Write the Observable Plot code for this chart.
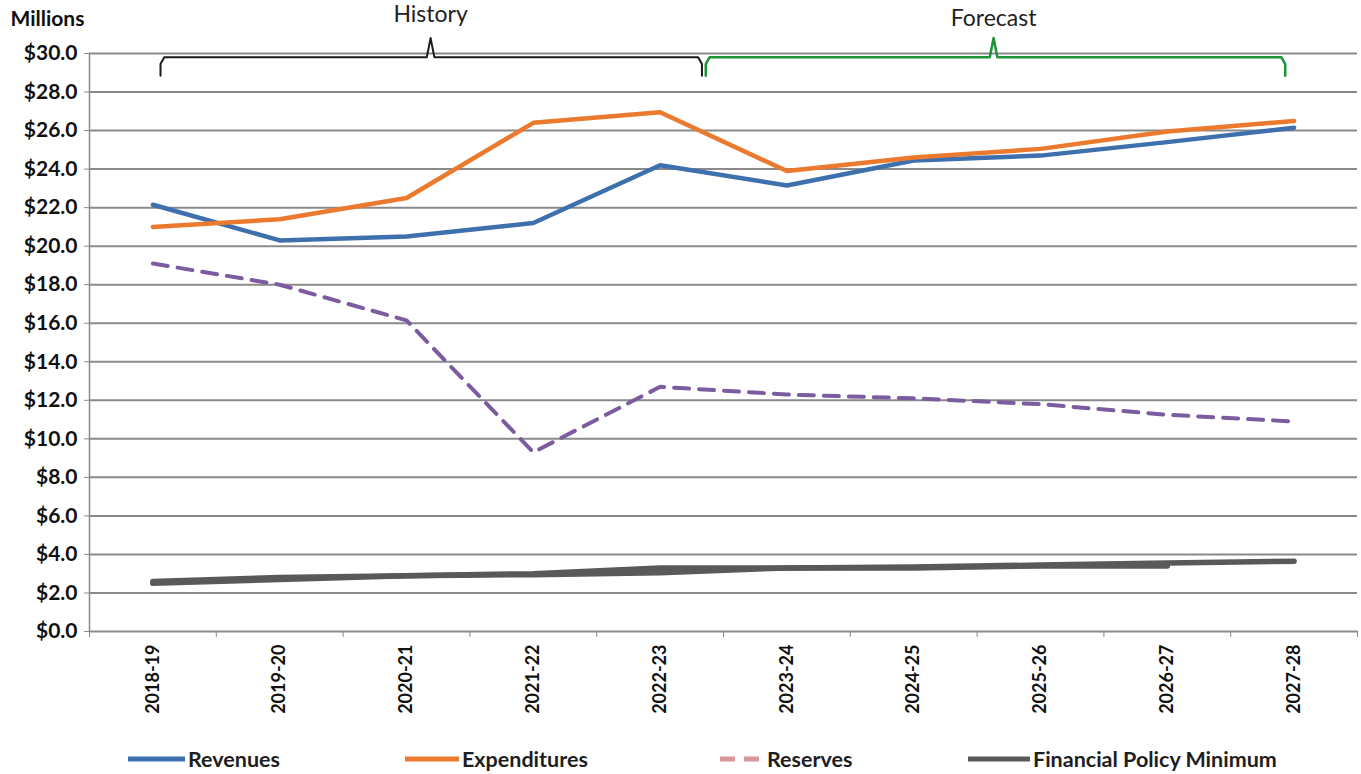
<!DOCTYPE html>
<html>
<head>
<meta charset="utf-8">
<script src="https://cdn.jsdelivr.net/npm/d3@7"></script>
<script src="https://cdn.jsdelivr.net/npm/@observablehq/plot@0.6"></script>
<style>
  html, body { margin: 0; padding: 0; background: #fff; }
  #wrap { position: relative; width: 1361px; height: 774px; font-family: Lato, "Open Sans", sans-serif; }
  #legend { position: absolute; left: 0; top: 746px; width: 1361px; height: 26px; }
  .item { position: absolute; top: 0; height: 26px; display: flex; align-items: center; font-weight: bold; font-size: 21.5px; color: #1e1e1e; white-space: nowrap; }
  .item svg { margin-right: 3px; }
</style>
</head>
<body>
<div id="wrap">
  <div id="chart"></div>
  <div id="legend"></div>
</div>
<script>
const years = ["2018-19","2019-20","2020-21","2021-22","2022-23","2023-24","2024-25","2025-26","2026-27","2027-28"];
const revenues = [22.15, 20.3, 20.5, 21.2, 24.2, 23.15, 24.45, 24.7, 25.4, 26.15];
const expenditures = [21.0, 21.4, 22.5, 26.4, 26.95, 23.9, 24.6, 25.05, 25.95, 26.5];
const reserves = [19.1, 18.0, 16.15, 9.3, 12.7, 12.3, 12.1, 11.8, 11.25, 10.9];
const policyMinimum = [2.6, 2.8, 2.9, 3.0, 3.3, 3.3, 3.35, 3.45, 3.55, 3.65];
const policyMinimumPrior = [2.5, 2.7, 2.9, 2.95, 3.05, 3.3, 3.3, 3.4, 3.4];
const yTicks = d3.range(0, 31, 2);
const bandEdges = d3.range(-0.5, 9.6, 1);
// bracket annotations: [start, tip, end] in category-index units
const historyBracket = [0.06, 2.19, 4.33];
const forecastBracket = [4.36, 6.63, 8.93];
const bracketLabels = ["History", "Forecast"];
const bracketLabelY = [32.0, 31.8];

const series = (arr) => arr.map((v, i) => ({i, v}));
function bracket([x0, xm, x1]) {
  const yb = 29.8, ye = 28.85, yt = 30.8, e = 0.03;
  return [
    {x: x0, y: ye}, {x: x0, y: 29.45}, {x: x0 + e, y: yb},
    {x: xm - e, y: yb}, {x: xm, y: yt}, {x: xm + e, y: yb},
    {x: x1 - e, y: yb}, {x: x1, y: 29.45}, {x: x1, y: ye}
  ];
}

const chart = Plot.plot({
  width: 1361,
  height: 740,
  marginLeft: 89,
  marginRight: 4,
  marginTop: 53,
  marginBottom: 109,
  x: {domain: [-0.5, 9.5], axis: null},
  y: {domain: [0, 30], axis: null},
  style: {fontFamily: "Lato, 'Open Sans', sans-serif", background: "#fff", overflow: "visible"},
  marks: [
    Plot.ruleY(yTicks, {stroke: "#8a8a8a", strokeWidth: 2}),
    Plot.ruleX([-0.5], {y1: 0, y2: 30, stroke: "#8a8a8a", strokeWidth: 1.5}),
    Plot.axisY({ticks: yTicks, tickSize: 5, tickPadding: 7, stroke: "#8a8a8a", tickFormat: d => "$" + d.toFixed(1), fontSize: 21, fontWeight: "bold", fill: "#111"}),
    Plot.axisX({ticks: bandEdges, tickSize: 6, stroke: "#8a8a8a", tickFormat: () => ""}),
    Plot.axisX({ticks: d3.range(0, 10), tickSize: 0, tickPadding: 13, tickRotate: -90, tickFormat: i => years[i], fontSize: 18, fontWeight: "bold", fill: "#111"}),
    Plot.line(series(policyMinimumPrior), {x: "i", y: "v", stroke: "#5a5a5a", strokeWidth: 5.5}),
    Plot.line(series(policyMinimum), {x: "i", y: "v", stroke: "#595959", strokeWidth: 5.5}),
    Plot.line(series(reserves), {x: "i", y: "v", stroke: "#7b5c9e", strokeWidth: 4, strokeDasharray: "15,10"}),
    Plot.line(series(revenues), {x: "i", y: "v", stroke: "#3d70ad", strokeWidth: 4.5}),
    Plot.line(series(expenditures), {x: "i", y: "v", stroke: "#ec7a2e", strokeWidth: 4.5}),
    Plot.line(bracket(historyBracket), {x: "x", y: "y", stroke: "#1a1a1a", strokeWidth: 2}),
    Plot.line(bracket(forecastBracket), {x: "x", y: "y", stroke: "#1e9437", strokeWidth: 2.5}),
    Plot.text([historyBracket[1], forecastBracket[1]], {x: d => d, y: (d, i) => bracketLabelY[i], text: (d, i) => bracketLabels[i], fontSize: 23, fill: "#222"}),
    Plot.text(["Millions"], {frameAnchor: "top-left", dx: -79, dy: -42, textAnchor: "start", fontSize: 21, fontWeight: "bold", fill: "#111"})
  ]
});
document.getElementById("chart").appendChild(chart);

const legendItems = [
  {label: "Revenues", color: "#3d70ad", x: 128, w: 57, dash: null},
  {label: "Expenditures", color: "#ec7a2e", x: 405, w: 54, dash: null},
  {label: "Reserves", color: "#d9979a", x: 720, w: 44, dash: "15,9"},
  {label: "Financial Policy Minimum", color: "#595959", x: 968, w: 62, dash: null}
];
const legend = document.getElementById("legend");
legendItems.forEach(it => {
  const div = document.createElement("div");
  div.className = "item";
  div.style.left = it.x + "px";
  div.innerHTML = `<svg width="${it.w}" height="8"><line x1="0" x2="${it.w}" y1="4" y2="4" stroke="${it.color}" stroke-width="5" ${it.dash ? `stroke-dasharray="${it.dash}"` : ""}/></svg><span>${it.label}</span>`;
  legend.appendChild(div);
});
</script>
</body>
</html>
